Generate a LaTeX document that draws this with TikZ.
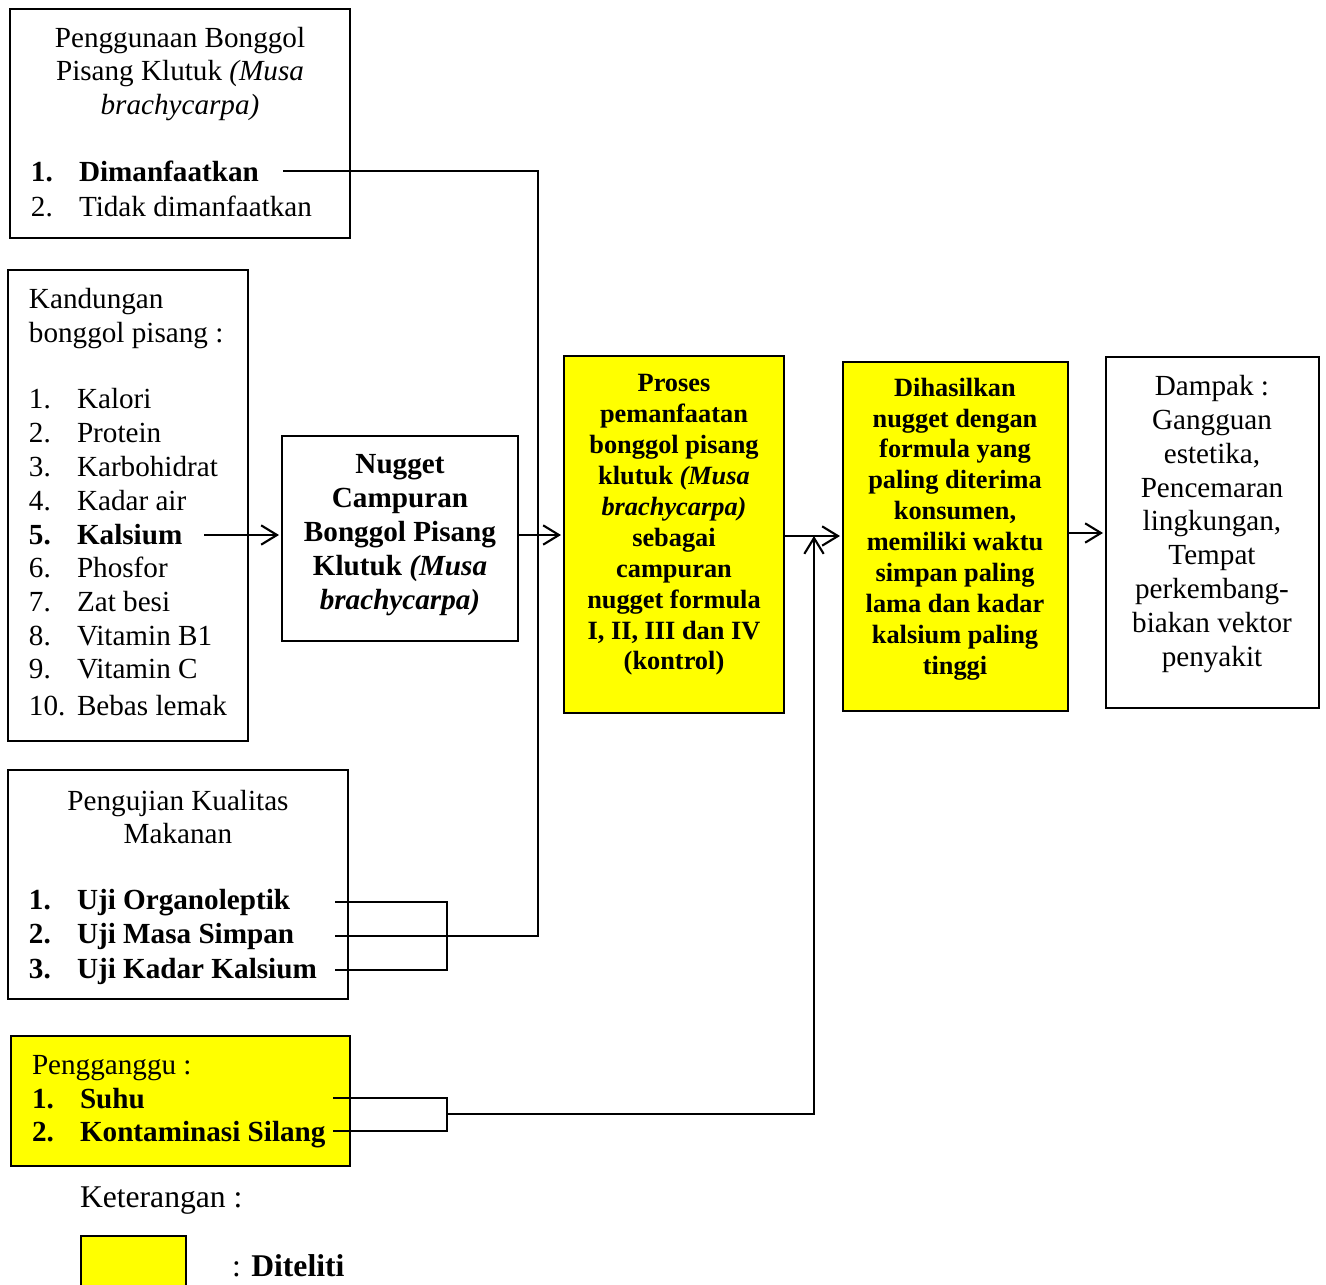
\documentclass[tikz,border=0pt]{standalone}
\usepackage{fontspec}
\setmainfont{Liberation Serif}
\usetikzlibrary{arrows.meta,positioning}

\definecolor{stabilo}{RGB}{255,255,0}

\tikzset{every node/.style={inner sep=0pt,outer sep=0pt}}
\tikzstyle{kotak}=[draw,line width=1.1pt,anchor=north west]
\tikzstyle{diteliti}=[kotak,fill=stabilo]
\tikzstyle{teks}=[font=\fontsize{16.6}{19.3}\selectfont]
\tikzstyle{tebal}=[font=\fontsize{16.6}{19.3}\selectfont\bfseries]
\tikzstyle{kecil}=[font=\fontsize{15}{17.6}\selectfont\bfseries]
\tikzstyle{baris}=[teks,anchor=base west]
\tikzstyle{garis}=[line width=1.2pt]
\tikzstyle{panah}=[garis,-{Straight Barb[length=9pt,width=11pt]},shorten >=0.06cm]

\begin{document}
\begin{tikzpicture}[x=0.02cm,y=-0.02cm]
\useasboundingbox (0,0) rectangle (1326,1285);

% kotak-kotak
\node[kotak,minimum width=6.8cm,minimum height=4.58cm] (pakai) at (10,9) {};
\node[kotak,minimum width=4.8cm,minimum height=9.42cm] (kandung) at (8,270) {};
\node[kotak,minimum width=6.8cm,minimum height=4.58cm] (uji) at (8,770) {};
\node[diteliti,minimum width=6.78cm,minimum height=2.6cm] (ganggu) at (11,1036) {};
\node[kotak,minimum width=4.72cm,minimum height=4.1cm] (nugget) at (282,436) {};
\node[diteliti,minimum width=4.4cm,minimum height=7.14cm] (proses) at (564,356) {};
\node[diteliti,minimum width=4.5cm,minimum height=6.98cm] (hasil) at (843,362) {};
\node[kotak,minimum width=4.26cm,minimum height=7.02cm] (dampak) at (1106,357) {};

% penggunaan
\node[teks,align=center] (judulpakai) at (180,74)
  {Penggunaan Bonggol\\Pisang Klutuk \textit{(Musa}\\\textit{brachycarpa)}};
\node[baris,tebal] (no1) at (31,181) {1.};
\node[baris,tebal] (manfaat) at (79,181) {Dimanfaatkan};
\node[baris] (no2) at (31,216) {2.};
\node[baris] (tidak) at (79,216) {Tidak dimanfaatkan};

% kandungan
\node[baris] (judulkandung) at (29,308) {Kandungan};
\node[baris] (judulkandung2) at (29,342) {bonggol pisang :};
\foreach \no/\isi/\y in {1./Kalori/408, 2./Protein/442, 3./Karbohidrat/476,
    4./Kadar air/510, {\textbf{5.}}/{\textbf{Kalsium}}/544, 6./Phosfor/577,
    7./Zat besi/611, 8./Vitamin B1/645, 9./Vitamin C/678, 10./Bebas lemak/715}
  {
    \node[baris] (k\y) at (29,\y) {\no};
    \node[baris] (i\y) at (77,\y) {\isi};
  }

% pengujian
\node[teks,align=center] (juduluji) at (178,817) {Pengujian Kualitas\\Makanan};
\foreach \no/\isi/\y in {1./Uji Organoleptik/909, 2./Uji Masa Simpan/943, 3./Uji Kadar Kalsium/978}
  {
    \node[baris,tebal] (u\y) at (29,\y) {\no};
    \node[baris,tebal] (v\y) at (77,\y) {\isi};
  }

% pengganggu
\node[baris] (judulganggu) at (32,1074) {Pengganggu :};
\node[baris,tebal] (g1) at (32,1108) {1.};
\node[baris,tebal] (suhu) at (80,1108) {Suhu};
\node[baris,tebal] (g2) at (32,1141) {2.};
\node[baris,tebal] (silang) at (80,1141) {Kontaminasi Silang};

% isi kotak tengah
\node[tebal,align=center] (isinugget) at (400,535)
  {Nugget\\Campuran\\Bonggol Pisang\\Klutuk \textit{(Musa}\\\textit{brachycarpa)}};
\node[kecil,align=center] (isiproses) at (674,525)
  {Proses\\pemanfaatan\\bonggol pisang\\klutuk \textit{(Musa}\\\textit{brachycarpa)}\\sebagai\\campuran\\nugget formula\\I, II, III dan IV\\(kontrol)};
\node[kecil,align=center] (isihasil) at (955,529)
  {Dihasilkan\\nugget dengan\\formula yang\\paling diterima\\konsumen,\\memiliki waktu\\simpan paling\\lama dan kadar\\kalsium paling\\tinggi};
\node[teks,align=center] (isidampak) at (1212,524)
  {Dampak :\\Gangguan\\estetika,\\Pencemaran\\lingkungan,\\Tempat\\perkembang-\\biakan vektor\\penyakit};

% keterangan
\node[anchor=base west,font=\fontsize{18}{21}\selectfont] (ket) at (80,1207) {Keterangan :};
\node[diteliti,minimum width=2.1cm,minimum height=1.3cm] (contoh) at (81,1236) {};
\node[anchor=base west,font=\fontsize{18}{21}\selectfont] (artinya) at (232,1276) {: \textbf{Diteliti}};

% garis penghubung
\coordinate (m) at (283,171);
\coordinate (tiang) at (538,171);
\coordinate (a1) at (335,902);
\coordinate (a2) at (335,936);
\coordinate (a3) at (335,970);
\coordinate (k1) at (447,936);
\coordinate (b1) at (333,1098);
\coordinate (b2) at (333,1131);
\coordinate (k2) at (447,1114);
\coordinate (temu) at (814,536);
\coordinate (kal) at (204,535);

\draw[garis] (a1) -| (k1) |- (a3);
\draw[garis] (a2) -- (k1);
\draw[garis] (m) -- (tiang) |- (k1);
\draw[garis] (b1) -| (k2) |- (b2);
\draw[panah] (kal) -- (kal -| nugget.west);
\draw[panah] (nugget.east |- 0,535) -- (proses.west |- 0,535);
\draw[panah] (proses.east |- temu) -- (temu -| hasil.west);
\draw[panah,shorten >=0pt] (k2) -| (temu);
\draw[panah] (hasil.east |- 0,533) -- (dampak.west |- 0,533);
\end{tikzpicture}
\end{document}
